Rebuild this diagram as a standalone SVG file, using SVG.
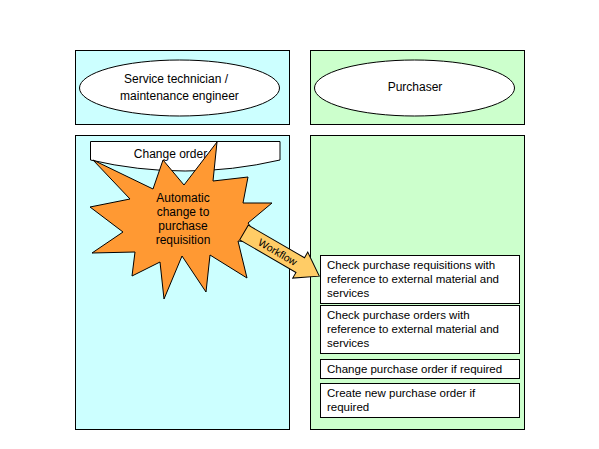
<svg xmlns="http://www.w3.org/2000/svg" width="599" height="449" viewBox="0 0 599 449">
<style>
  .lane { stroke: #000; stroke-width: 1; }
  .cyan { fill: #CCFFFF; }
  .green { fill: #CCFFCC; }
  .white { fill: #FFFFFF; stroke: #000; stroke-width: 1; }
  text { font-family: "Liberation Sans", Arial, sans-serif; fill: #000; }
  .hdr { font-size: 12px; text-anchor: middle; }
  .box { font-size: 11.5px; }
  .star { fill: #FF9933; stroke: #000; stroke-width: 1; }
  .arrow { fill: #FFCC66; stroke: #000; stroke-width: 1; }
</style>
<rect width="599" height="449" fill="#FFFFFF"/>
<g id="lane-service-header">
  <rect class="lane cyan" x="75.5" y="50.5" width="214" height="74"/>
</g>
<g id="lane-purchaser-header">
  <rect class="lane green" x="310.5" y="50.5" width="214" height="74"/>
</g>
<g id="lane-service">
  <rect class="lane cyan" x="75.5" y="135.5" width="214" height="294"/>
</g>
<g id="lane-purchaser">
  <rect class="lane green" x="310.5" y="135.5" width="214" height="294"/>
</g>
<g id="role-service">
  <ellipse class="white" cx="179.5" cy="88" rx="100" ry="28"/>
  <text class="hdr" x="176" y="82.5">Service technician /</text>
  <text class="hdr" x="179.5" y="99.5">maintenance engineer</text>
</g>
<g id="role-purchaser">
  <ellipse class="white" cx="414.5" cy="88" rx="100" ry="28"/>
  <text class="hdr" x="415" y="91">Purchaser</text>
</g>
<g id="change-order">
  <path class="white" d="M90.5,141.5 H280 V160 Q185,182 90.5,160 Z"/>
  <text class="hdr" x="170.5" y="157.5">Change order</text>
</g>
<g id="auto-change">
  <polygon class="star" points="93,160 153,189 163,160 184,185 217,142 213,181 248,177 243,203 272,203 248,223 262,243 238,241 247,278 210,255 206,292 182,256 164,299 160,262 132,276 135,252 92,253 123,232 90,207 130,199"/>
  <text class="hdr" x="183" y="202">Automatic</text>
  <text class="hdr" x="183" y="216">change to</text>
  <text class="hdr" x="183" y="230">purchase</text>
  <text class="hdr" x="183" y="244">requisition</text>
</g>
<g id="connectors">
  <g id="workflow-arrow" transform="translate(244,232.5) rotate(30.1)">
    <polygon class="arrow" points="0,-8.5 65,-8.5 65,-15 87,0 65,15 65,8.5 0,8.5"/>
    <text x="39" y="3.8" font-size="10.5" text-anchor="middle">Workflow</text>
  </g>
</g>
<g id="check-pr">
  <rect class="white" x="320.5" y="255.5" width="199" height="48"/>
  <text class="box" x="327" y="269">Check purchase requisitions with</text>
  <text class="box" x="327" y="283">reference to external material and</text>
  <text class="box" x="327" y="296.5">services</text>
</g>
<g id="check-po">
  <rect class="white" x="320.5" y="305.5" width="199" height="48"/>
  <text class="box" x="327" y="319">Check purchase orders with</text>
  <text class="box" x="327" y="333">reference to external material and</text>
  <text class="box" x="327" y="346.5">services</text>
</g>
<g id="change-po">
  <rect class="white" x="320.5" y="359.5" width="199" height="19"/>
  <text class="box" x="327" y="372.5">Change purchase order if required</text>
</g>
<g id="create-po">
  <rect class="white" x="320.5" y="383.5" width="199" height="34"/>
  <text class="box" x="327" y="397">Create new purchase order if</text>
  <text class="box" x="327" y="410.5">required</text>
</g>
</svg>
